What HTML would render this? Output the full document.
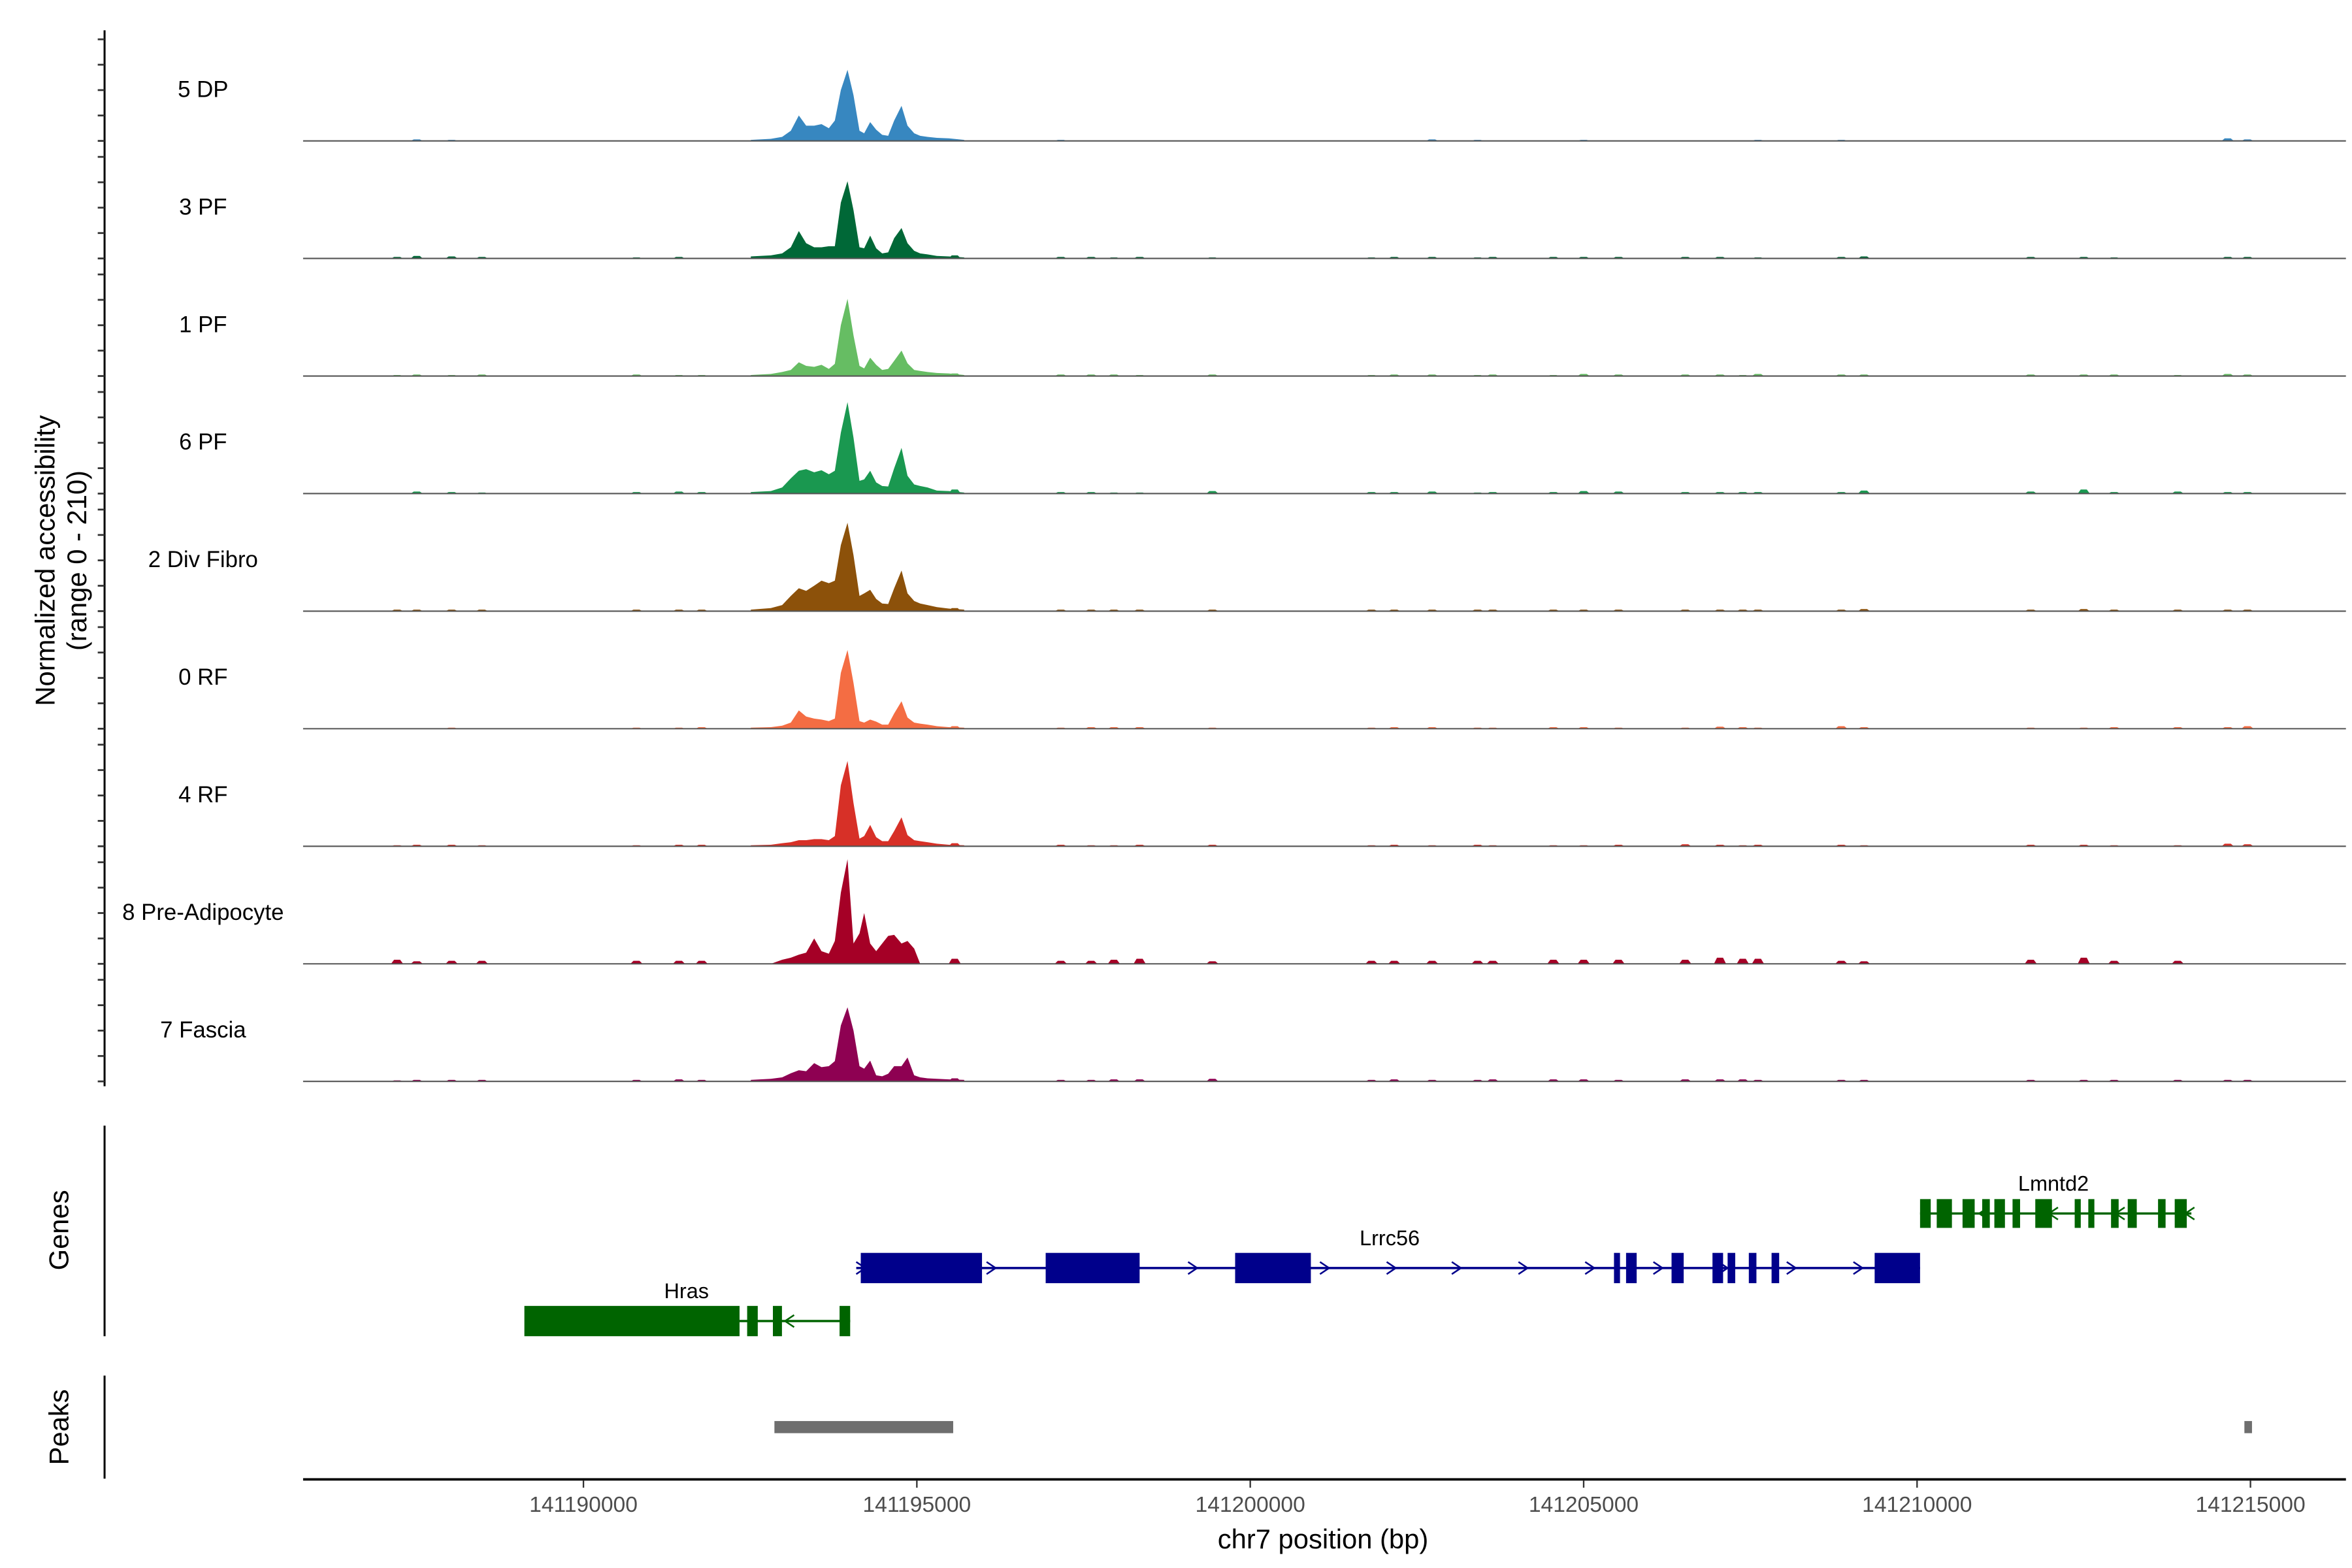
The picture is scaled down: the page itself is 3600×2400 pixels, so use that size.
<!DOCTYPE html>
<html><head><meta charset="utf-8">
<style>
html,body{margin:0;padding:0;background:#fff;}
svg{display:block;}
text{font-family:"Liberation Sans",sans-serif;}
</style></head>
<body>
<svg id="chart" xmlns="http://www.w3.org/2000/svg" width="3600" height="2400" viewBox="0 0 1552 1035" preserveAspectRatio="none">
<rect width="1552" height="1035" fill="#fff"/>
<g id="tracks"></g>
<g id="yaxis"></g>
<text transform="translate(36,370) rotate(-90)" text-anchor="middle" font-size="18" fill="#000">Normalized accessibility</text>
<text transform="translate(57,370) rotate(-90)" text-anchor="middle" font-size="18" fill="#000">(range 0 - 210)</text>
<g id="genes"></g>
<line x1="69" y1="743" x2="69" y2="882" stroke="#000" stroke-width="1.3"/>
<text transform="translate(45,812) rotate(-90)" text-anchor="middle" font-size="18" fill="#000">Genes</text>
<g id="peaks"></g>
<line x1="69" y1="908" x2="69" y2="976" stroke="#000" stroke-width="1.3"/>
<text transform="translate(45,942) rotate(-90)" text-anchor="middle" font-size="18" fill="#000">Peaks</text>
<g id="xaxis"></g>
<text x="873" y="1022" text-anchor="middle" font-size="18" fill="#000">chr7 position (bp)</text>
</svg>
<script>
const NS="http://www.w3.org/2000/svg";
const trackNames=["5 DP","3 PF","1 PF","6 PF","2 Div Fibro","0 RF","4 RF","8 Pre-Adipocyte","7 Fascia"];
const trackColors=["#3787c0","#006837","#66bd63","#1a9850","#8c510a","#f46d43","#d73027","#a50026","#8e0152"];
const corePos=[141192510,141192810,141192980,141193110,141193230,141193340,141193460,141193570,141193680,141193770,141193860,141193960,141194050,141194140,141194210,141194300,141194390,141194480,141194570,141194660,141194770,141194860,141194960,141195050,141195160,141195300,141195480,141195710];
const core5DP=[2,4,8,20,50,30,30,33,25,40,100,140,90,20,15,37,22,12,10,40,69,30,15,10,8,6,5,2];
const core3PF=[4,6,10,22,54,30,22,22,24,24,110,152,95,22,20,45,20,10,12,40,60,30,15,10,8,5,4,2];
const core1PF=[2,4,8,12,27,20,18,22,14,24,100,152,80,20,15,36,22,12,14,30,50,25,12,10,8,6,5,2];
const core6PF=[3,5,12,30,45,48,42,46,38,45,120,180,110,25,28,45,22,15,14,50,90,35,18,15,12,6,5,2];
const core2Div=[3,6,12,30,45,40,50,60,55,60,130,174,110,30,35,42,24,15,14,45,80,35,20,15,12,8,5,3];
const core0RF=[2,3,6,12,36,24,20,18,15,20,110,155,90,15,12,18,14,8,8,30,54,22,12,10,8,5,3,2];
const core4RF=[2,3,6,8,12,12,14,14,12,20,120,168,85,15,20,42,18,10,10,30,57,22,12,10,8,5,3,2];
const core8Pre=[0,0,8,12,18,22,50,25,20,45,140,206,40,60,100,40,25,40,55,57,40,45,30,0,0,0,0,0];
const core7Fa=[3,5,8,16,22,20,36,28,30,40,110,146,100,30,25,41,12,10,15,30,30,47,12,8,6,5,4,3];
const coreVals=[core5DP,core3PF,core1PF,core6PF,core2Div,core0RF,core4RF,core8Pre,core7Fa];
const bgPos=[141187205,141187500,141188023,141188477,141190795,141191432,141191773,141195568,141197159,141197614,141197955,141198341,141199432,141201818,141202159,141202727,141203409,141203636,141204545,141205000,141205523,141206523,141207045,141207386,141207614,141208864,141209205,141211705,141212500,141212955,141213909,141214659,141214955];
const bg5DP=[0,3,2,0,0,0,0,3,2,0,0,0,0,0,0,3,2,0,0,2,0,0,0,0,2,2,0,0,0,0,0,5,3];
const bg3PF=[3,5,4,3,2,3,0,6,3,3,2,3,2,2,3,3,2,3,3,3,3,3,3,0,2,3,4,3,3,2,0,3,3];
const bg1PF=[2,3,2,3,3,2,2,5,3,3,3,2,3,2,3,3,2,3,2,4,3,3,3,2,4,3,3,3,3,3,2,4,3];
const bg6PF=[0,4,3,2,3,4,3,8,3,3,2,2,5,3,3,4,2,3,3,5,4,3,3,3,3,3,6,4,8,3,4,3,3];
const bg2Div=[3,3,3,3,3,3,3,6,3,3,3,3,3,3,3,3,3,3,3,3,3,3,3,3,3,3,4,3,4,3,3,3,3];
const bg0RF=[0,0,2,0,2,2,3,5,2,3,3,3,2,2,3,3,2,2,3,3,2,2,4,3,2,5,3,2,2,3,3,3,5];
const bg4RF=[2,3,3,2,2,3,3,6,3,2,2,3,3,2,3,2,3,2,2,2,3,4,3,2,3,3,2,3,3,2,2,5,4];
const bg8Pre=[8,5,6,6,6,6,6,10,6,6,8,10,5,6,6,6,6,6,8,8,8,8,12,10,10,6,5,8,12,6,6,0,0];
const bg7Fa=[2,3,3,3,3,4,3,6,3,3,4,4,5,3,4,3,3,4,4,4,3,4,4,4,3,3,3,3,3,3,3,3,3];
const bgVals=[bg5DP,bg3PF,bg1PF,bg6PF,bg2Div,bg0RF,bg4RF,bg8Pre,bg7Fa];
const yTicks=[0,50,100,150,200];
const xTicks=[141190000,141195000,141200000,141205000,141210000,141215000];
const xTickLabels=["141190000","141195000","141200000","141205000","141210000","141215000"];
const hrasExons=[[141189114,141192341],[141192455,141192614],[141192841,141192977],[141193841,141194000]];
const hrasSpan=[141192341,141194000];
const hrasArrows=[141193091];
const lrrcExons=[[141194159,141195977],[141196932,141198341],[141199773,141200909],[141205455,141205545],[141205636,141205795],[141206318,141206500],[141206932,141207091],[141207159,141207273],[141207477,141207591],[141207818,141207932],[141209364,141210045]];
const lrrcSpan=[141194091,141210045];
const lrrcArrows=[141194159,141196114,141199136,141201114,141202114,141203091,141204091,141205091,141206114,141207091,141208114,141209114];
const lmnExons=[[141210045,141210205],[141210295,141210523],[141210682,141210864],[141210977,141211091],[141211159,141211318],[141211432,141211545],[141211773,141212023],[141212364,141212455],[141212568,141212659],[141212909,141213023],[141213159,141213295],[141213614,141213727],[141213864,141214045]];
const lmnSpan=[141210045,141214114];
const lmnArrows=[141211000,141212045,141213045,141214091];
const peakStarts=[141192864,141214909];
const peakEnds=[141195545,141215023];

const X0=141190000, PXPERBP=0.044, XOFF=385;
function xs(bp){return XOFF+(bp-X0)*PXPERBP;}
const BASE0=93, TSTEP=77.6, TH=70.4, YMAX=210;
function ys(i,v){return BASE0+i*TSTEP - v/YMAX*TH;}
function mk(tag,attrs,parent){const e=document.createElementNS(NS,tag);for(const k in attrs)e.setAttribute(k,attrs[k]);parent.appendChild(e);return e;}

const gT=document.getElementById('tracks');
trackNames.forEach((nm,i)=>{
  const g=mk('g',{},gT);
  
  
  const base=BASE0+i*TSTEP;
  const lbl=mk('text',{x:134,y:base-29,'text-anchor':'middle','font-size':15,fill:'#000'},g);
  lbl.textContent=nm;
  
  
  let d='M'+xs(corePos[0]).toFixed(2)+','+base;
  corePos.forEach((p,j)=>{d+=' L'+xs(p).toFixed(2)+','+ys(i,coreVals[i][j]).toFixed(2);});
  d+=' L'+xs(corePos[corePos.length-1]).toFixed(2)+','+base+' Z';
  const a=mk('path',{d:d,fill:trackColors[i]},g);
  
  
  bgPos.forEach((p,j)=>{
    const v=bgVals[i][j]; if(!v)return;
    const cx=xs(p), top=ys(i,v);
    const b=mk('path',{d:`M${cx-4},${base} L${cx-2},${top} L${cx+2},${top} L${cx+4},${base} Z`,fill:trackColors[i]},g);
    
    
  });
  const bl=mk('line',{x1:200,x2:1548,y1:base,y2:base,stroke:'#555','stroke-width':0.9},g);
  
  
});

const gY=document.getElementById('yaxis');
const yl=mk('line',{x1:69,x2:69,y1:20,y2:717,stroke:'#000','stroke-width':1.3},gY);


trackNames.forEach((nm,i)=>{
  yTicks.forEach(t=>{
    const y=ys(i,t);
    const tk=mk('line',{x1:64.5,x2:69,y1:y,y2:y,stroke:'#333','stroke-width':1.2},gY);
    
    
  });
});

const gG=document.getElementById('genes');
function drawGene(name,exons,span,arrows,yc,h,color,dir,lx,ly){
  const g=mk('g',{},gG);
  
  
  const ln=mk('line',{x1:xs(span[0]),x2:xs(span[1]),y1:yc,y2:yc,stroke:color,'stroke-width':1.5},g);
  
  
  exons.forEach(e=>{
    const r=mk('rect',{x:xs(e[0]),y:yc-h/2,width:Math.max(1.5,xs(e[1])-xs(e[0])),height:h,fill:color},g);
    
    
  });
  arrows.forEach(p=>{
    const cx=xs(p), s=dir*3;
    const ar=mk('path',{d:`M${cx-s},${yc-4} L${cx+s},${yc} L${cx-s},${yc+4}`,fill:'none',stroke:color,'stroke-width':1.1},g);
    
    
  });
  const t=mk('text',{x:lx,y:ly,'text-anchor':'middle','font-size':14,fill:'#000'},g);
  t.textContent=name;
  
  
}
drawGene('Hras',hrasExons,hrasSpan,hrasArrows,872,20,'#006400',-1,453,857);
drawGene('Lrrc56',lrrcExons,lrrcSpan,lrrcArrows,837,20,'#00008b',1,917,822);
drawGene('Lmntd2',lmnExons,lmnSpan,lmnArrows,801,19,'#006400',-1,1355,786);

const gP=document.getElementById('peaks');
peakStarts.forEach((s,i)=>{
  const r=mk('rect',{x:xs(s),y:938,width:Math.max(3,xs(peakEnds[i])-xs(s)),height:8,fill:'#6e6e6e'},gP);
  
  
});

const gX=document.getElementById('xaxis');
const xl=mk('line',{x1:200,x2:1548,y1:976.5,y2:976.5,stroke:'#000','stroke-width':1.6},gX);


xTicks.forEach((t,i)=>{
  const x=xs(t);
  const tk=mk('line',{x1:x,x2:x,y1:977,y2:982,stroke:'#333','stroke-width':1},gX);
  
  
  const tl=mk('text',{x:x,y:998,'text-anchor':'middle','font-size':14.5,fill:'#4d4d4d'},gX);
  tl.textContent=xTickLabels[i];
  
  
});
</script>
</body></html>
